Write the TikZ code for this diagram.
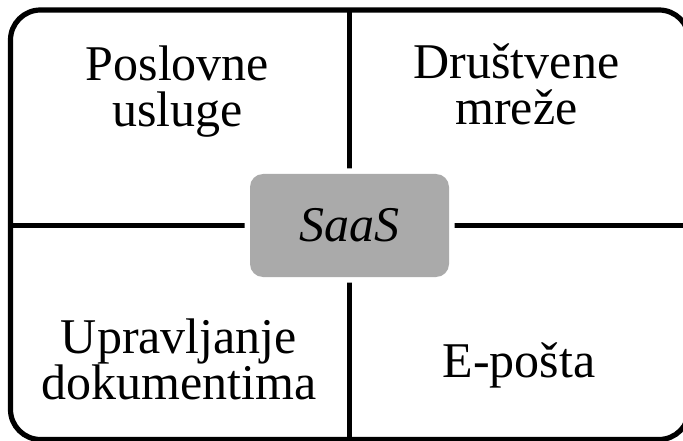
\documentclass[tikz,border=0pt]{standalone}
\usepackage{fontspec}
\setmainfont{Liberation Serif}
\definecolor{saasgray}{HTML}{AAAAAA}
\tikzset{
	field/.style = {align=center, font=\fontsize{50}{46}\selectfont},
	hub/.style = {fill=saasgray, rounded corners=13pt, minimum width=199pt, minimum height=103pt, inner sep=0pt,
		preaction={draw=white, line width=11pt, rounded corners=13pt}, font=\fontsize{50}{46}\selectfont\itshape}
}

\begin{document}
\begin{tikzpicture}[x=1pt, y=-1pt]
		\useasboundingbox (0,0) rectangle (683,441);
		\draw[line width=5.2pt, rounded corners=30pt] (10.5,10) rectangle (689,439.5);
		\coordinate (top) at (349.7,10);
		\coordinate (bottom) at (349.7,439.5);
		\coordinate (left) at (10.5,225.5);
		\coordinate (right) at (689,225.5);
		\draw[line width=5.2pt] (top) -- (bottom);
		\draw[line width=5.2pt] (left) -- (right);
		\node[hub] (saas) at (349.5,225.5) {SaaS};
		\node[field] (poslovne) at (177.5,92) {Poslovne\\usluge};
		\node[field] (drustvene) at (516.5,84) {Društvene\\mreže};
		\node[field] (dokumenti) at (179,359) {Upravljanje\\dokumentima};
		\node[field] (posta) at (519,365) {E-pošta};
	\end{tikzpicture}
\end{document}
